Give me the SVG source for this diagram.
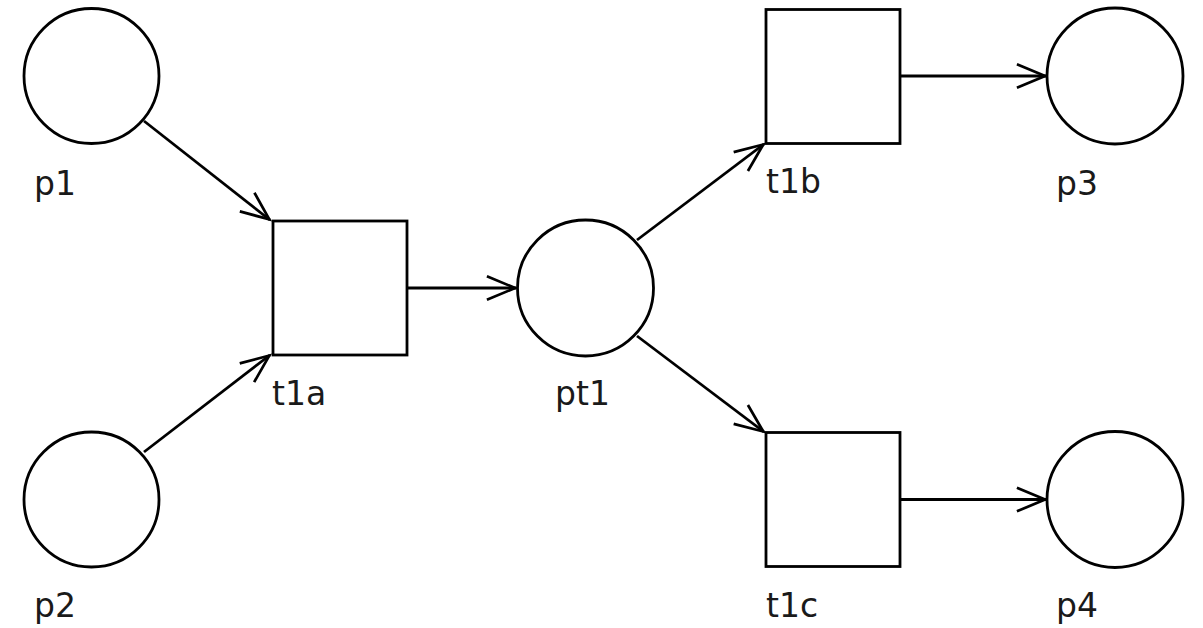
<svg xmlns="http://www.w3.org/2000/svg" width="1203" height="628" viewBox="0 0 1203 628">
<style>
.place{fill:#fff;stroke:#000;stroke-width:2.8}
.trans{fill:#fff;stroke:#000;stroke-width:2.8}
.edge{fill:none;stroke:#000;stroke-width:2.8}
.lbl{font-family:"DejaVu Sans",Verdana,sans-serif;font-size:33px;fill:#1a1a1a}
</style>
<defs>
<marker id="arr" markerUnits="userSpaceOnUse" markerWidth="40" markerHeight="40" viewBox="-40 -20 44 40" refX="0" refY="0" orient="auto" overflow="visible">
<path d="M-32,-13 L-1,0 L-32,13" fill="none" stroke="#000" stroke-width="3" stroke-linejoin="miter"/>
</marker>
</defs>
<rect width="1203" height="628" fill="#fff"/>
<g id="connectors">
<line class="edge" x1="144" y1="121" x2="270" y2="220" marker-end="url(#arr)"/>
<line class="edge" x1="144" y1="452" x2="270" y2="355" marker-end="url(#arr)"/>
<line class="edge" x1="407" y1="288" x2="516" y2="288" marker-end="url(#arr)"/>
<line class="edge" x1="637" y1="240" x2="764" y2="144" marker-end="url(#arr)"/>
<line class="edge" x1="637" y1="336" x2="764" y2="432" marker-end="url(#arr)"/>
<line class="edge" x1="900" y1="76" x2="1046" y2="76" marker-end="url(#arr)"/>
<line class="edge" x1="900" y1="499.5" x2="1046" y2="499.5" marker-end="url(#arr)"/>
</g>
<g id="p1"><circle class="place" cx="91.5" cy="76" r="67.5"/><text class="lbl" x="34" y="195">p1</text></g>
<g id="p2"><circle class="place" cx="91.5" cy="499.5" r="67.5"/><text class="lbl" x="34" y="617">p2</text></g>
<g id="t1a"><rect class="trans" x="273" y="221" width="134" height="134"/><text class="lbl" x="272" y="405">t1a</text></g>
<g id="pt1"><circle class="place" cx="585.5" cy="288" r="68"/><text class="lbl" x="555" y="405">pt1</text></g>
<g id="t1b"><rect class="trans" x="766" y="9.5" width="134" height="134"/><text class="lbl" x="766" y="193">t1b</text></g>
<g id="t1c"><rect class="trans" x="766" y="432.5" width="134" height="134"/><text class="lbl" x="766" y="617">t1c</text></g>
<g id="p3"><circle class="place" cx="1115" cy="76" r="68"/><text class="lbl" x="1056" y="195">p3</text></g>
<g id="p4"><circle class="place" cx="1115" cy="499.5" r="68"/><text class="lbl" x="1056" y="617">p4</text></g>
</svg>
